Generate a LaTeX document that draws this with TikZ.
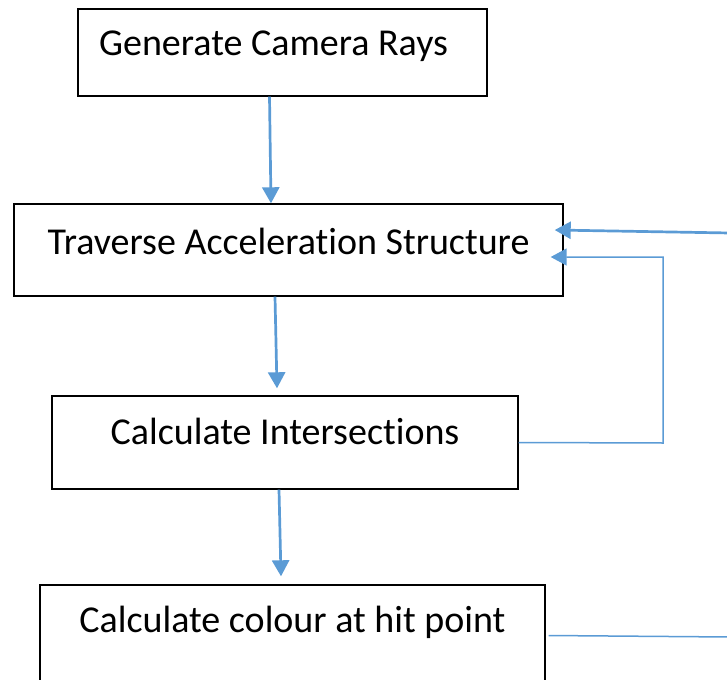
\documentclass[tikz,border=0pt]{standalone}
\usepackage{fontspec}
\setmainfont{Carlito}[Ligatures=NoCommon]
\usetikzlibrary{arrows.meta}
\definecolor{flowblue}{RGB}{91,155,213}

\begin{document}
\begin{tikzpicture}[
  x=1pt, y=-1pt,
  stage/.style={draw, line width=1.4pt, inner sep=0pt, font=\fontsize{38}{42}\selectfont},
  flow/.style={->, draw=flowblue, line width=2.7pt},
  feedback/.style={draw=flowblue, line width=1.5pt},
  >={Triangle[width=17pt,length=16pt]}]
  \useasboundingbox (0,0) rectangle (727,679);
  \clip (0,0) rectangle (727,679);
%   boxes, text sits in the upper part as in the original
    \node[stage, minimum width=409pt, minimum height=87pt, text height=47pt, text depth=40pt]
      (gen) at (282.5,52.5) {Generate Camera Rays\hspace*{18pt}};
    \node[stage, minimum width=549pt, minimum height=92pt, text height=50pt, text depth=42pt]
      (traverse) at (288.5,250) {Traverse Acceleration Structure};
    \node[stage, minimum width=466pt, minimum height=93pt, text height=48pt, text depth=45pt]
      (intersect) at (285,442.5) {Calculate Intersections};
    \node[stage, minimum width=505pt, minimum height=115pt, text height=47pt, text depth=68pt]
      (colour) at (292.5,642.5) {Calculate colour at hit point};
%   main flow
    \draw[flow] ([xshift=-13pt]gen.south) -- ([xshift=-17.5pt]traverse.north);
    \draw[flow] ([xshift=-13.5pt]traverse.south) -- ([xshift=-8pt,yshift=7pt]intersect.north);
    \draw[flow] ([xshift=-6pt]intersect.south) -- ([xshift=-11.5pt,yshift=8pt]colour.north);
%   loop back
    \coordinate (bend) at (663,443);
    \draw[feedback,->] (intersect.east) -- (bend) |- ([xshift=-13pt,yshift=-7pt]traverse.east);
    \coordinate (return) at (730,233);
    \draw[flow] (return) -- ([xshift=-9pt,yshift=20pt]traverse.east);
    \coordinate (shade) at (730,637);
    \draw[feedback] ([xshift=3pt,yshift=7pt]colour.east) -- (shade);
\end{tikzpicture}
\end{document}
